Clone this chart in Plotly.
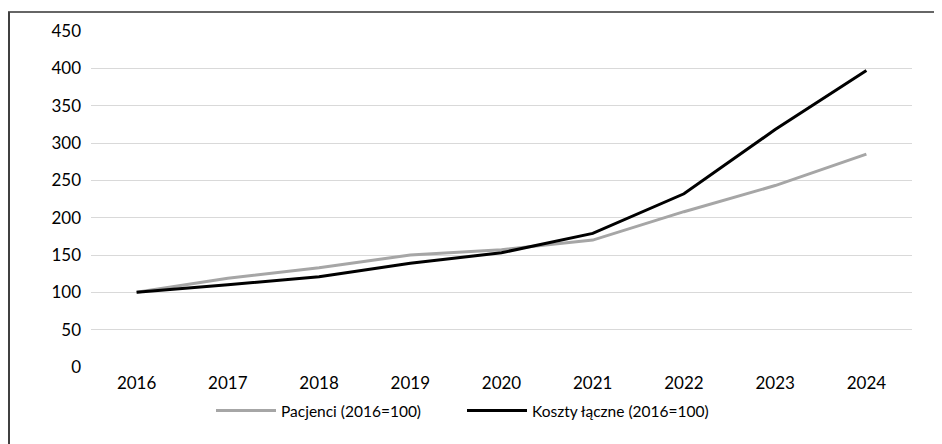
import plotly.graph_objects as go

years = ["2016", "2017", "2018", "2019", "2020", "2021", "2022", "2023", "2024"]
pacjenci = [100, 119, 133, 150, 157, 170, 208, 243, 285]
koszty = [100, 110, 121, 139, 153, 179, 232, 318, 397]
y_ticks = [0, 50, 100, 150, 200, 250, 300, 350, 400, 450]

# page has an 8px body margin; figure coordinates are page coordinates minus 8
OFF = 8
W, H = 942 - OFF, 444 - OFF
ML, MR, MT, MB = 91 - OFF, 30, 31 - OFF, 77
pw = W - ML - MR
ph = H - MT - MB

def px_x(x):
    return (x - OFF - ML) / pw

def px_y(y):
    return (H - MB - (y - OFF)) / ph

font = "Lato, 'Open Sans', sans-serif"

fig = go.Figure()
fig.add_trace(go.Scatter(x=years, y=pacjenci, mode="lines", name="Pacjenci (2016=100)",
                         line=dict(color="#a6a6a6", width=3), legend="legend"))
fig.add_trace(go.Scatter(x=years, y=koszty, mode="lines", name="Koszty łączne (2016=100)",
                         line=dict(color="#000000", width=3), legend="legend2"))

leg_common = dict(orientation="h", yanchor="middle", y=px_y(411), xanchor="left",
                  font=dict(size=15.5), itemwidth=60, bgcolor="rgba(0,0,0,0)")

fig.update_layout(
    width=W, height=H,
    margin=dict(l=ML, r=MR, t=MT, b=MB),
    paper_bgcolor="white", plot_bgcolor="white",
    font=dict(family=font, size=17, color="#000000"),
    showlegend=True,
    legend=dict(x=px_x(211), **leg_common),
    legend2=dict(x=px_x(462), **leg_common),
    xaxis=dict(type="category", range=[-0.5, 8.5], showgrid=False, showline=False,
               zeroline=False, ticks="", tickfont=dict(size=17), ticklabelstandoff=4),
    yaxis=dict(range=[0, 450], tickvals=y_ticks, showgrid=True, gridcolor="#d9d9d9",
               gridwidth=1.3, zeroline=False, showline=False, ticks="",
               tickfont=dict(size=17), ticklabelstandoff=9),
    shapes=[
        dict(type="line", xref="paper", yref="paper", x0=px_x(8), x1=px_x(944),
             y0=px_y(12), y1=px_y(12), line=dict(color="#333333", width=1.6)),
        dict(type="line", xref="paper", yref="paper", x0=px_x(9), x1=px_x(9),
             y0=px_y(12), y1=px_y(446), line=dict(color="#404040", width=2)),
    ],
)

fig.write_html("out.html")
